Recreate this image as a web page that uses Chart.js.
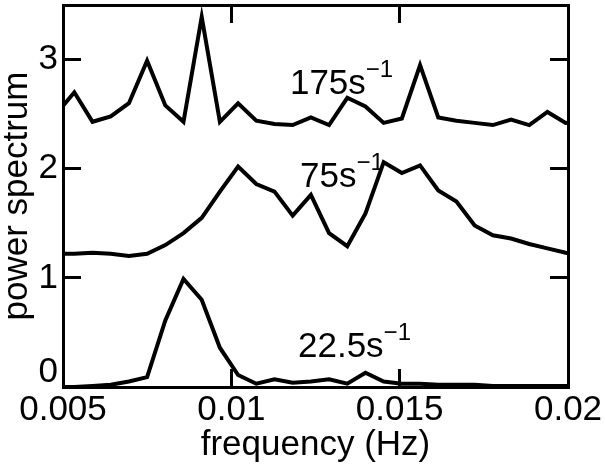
<!DOCTYPE html>
<html>
<head>
<meta charset="utf-8">
<script src="https://cdn.jsdelivr.net/npm/chart.js@4"></script>
<style>
  html, body { margin: 0; padding: 0; background: #fff; }
  #wrap { width: 605px; height: 470px; }
</style>
</head>
<body>
<div id="wrap"><canvas id="chart" width="605" height="470"></canvas></div>
<script>
// frequency of each spectrum sample (Hz)
const freq = [0.004796, 0.005336, 0.005877, 0.006417, 0.006958, 0.007498, 0.008039, 0.008579,
  0.009120, 0.009660, 0.010201, 0.010741, 0.011282, 0.011822, 0.012363, 0.012903, 0.013444,
  0.013984, 0.014525, 0.015065, 0.015606, 0.016146, 0.016687, 0.017227, 0.017768, 0.018308,
  0.018849, 0.019389, 0.019930, 0.020470];

const spec175 = [2.50, 2.70, 2.43, 2.48, 2.60, 2.99, 2.58, 2.43, 3.39, 2.43, 2.60, 2.44, 2.41, 2.40,
  2.47, 2.40, 2.65, 2.57, 2.42, 2.46, 2.95, 2.47, 2.44, 2.42, 2.40, 2.45, 2.40, 2.52, 2.42, 2.43];
const spec75 = [1.22, 1.22, 1.23, 1.22, 1.20, 1.22, 1.30, 1.41, 1.55, 1.79, 2.02, 1.86, 1.79, 1.57,
  1.76, 1.41, 1.29, 1.59, 2.06, 1.96, 2.03, 1.80, 1.70, 1.48, 1.39, 1.36, 1.31, 1.27, 1.23, 1.20];
const spec22 = [0.00, 0.00, 0.01, 0.02, 0.05, 0.09, 0.61, 0.99, 0.80, 0.36, 0.11, 0.03, 0.07, 0.04,
  0.05, 0.07, 0.03, 0.13, 0.05, 0.03, 0.03, 0.02, 0.02, 0.02, 0.01, 0.01, 0.01, 0.01, 0.01, 0.01];

const xTicks = [0.005, 0.01, 0.015, 0.02];
const xTickLabels = ['0.005', '0.01', '0.015', '0.02'];
const yTicks = [0, 1, 2, 3];
const yTickLabels = ['0', '1', '2', '3'];

// curve labels: text, anchor in data units
const labelText = ['175s', '75s', '22.5s'];
const labelX = [0.01174, 0.01204, 0.01198];
const labelY = [2.68, 1.83, 0.275];

const FONT = '"Liberation Sans", Arial, Helvetica, sans-serif';

function toPoints(ys) {
  return freq.map((f, i) => ({ x: f, y: ys[i] }));
}

function lineSet(ys) {
  return {
    data: toPoints(ys),
    borderColor: '#000',
    borderWidth: 4,
    pointRadius: 0,
    tension: 0,
    clip: 0
  };
}

const curveLabels = {
  id: 'curveLabels',
  afterDatasetsDraw(chart) {
    const ctx = chart.ctx;
    const xs = chart.scales.x, ys = chart.scales.y;
    ctx.save();
    ctx.fillStyle = '#000';
    ctx.textBaseline = 'alphabetic';
    ctx.textAlign = 'left';
    for (let i = 0; i < labelText.length; i++) {
      const px = xs.getPixelForValue(labelX[i]);
      const py = ys.getPixelForValue(labelY[i]);
      ctx.font = '35px ' + FONT;
      ctx.fillText(labelText[i], px, py);
      const w = ctx.measureText(labelText[i]).width;
      ctx.font = '24px ' + FONT;
      ctx.fillText('\u22121', px + w, py - 17);
    }
    ctx.restore();
  }
};

const tickGrid = {
  drawOnChartArea: false,
  color: '#000',
  lineWidth: 3,
  tickLength: -18
};
const axisBorder = { display: true, color: '#000', width: 3 };

new Chart(document.getElementById('chart'), {
  type: 'line',
  data: {
    datasets: [lineSet(spec175), lineSet(spec75), lineSet(spec22)]
  },
  options: {
    responsive: false,
    animation: false,
    layout: { padding: { top: 5, right: 37, bottom: 0, left: 0 } },
    plugins: { legend: { display: false }, tooltip: { enabled: false } },
    scales: {
      x: {
        type: 'linear',
        position: 'bottom',
        min: 0.005,
        max: 0.02,
        afterBuildTicks: s => { s.ticks = xTicks.map(v => ({ value: v })); },
        afterFit: s => { s.height = 83; s.paddingLeft = 0; s.paddingRight = 0; },
        grid: tickGrid,
        border: axisBorder,
        ticks: {
          color: '#000',
          padding: 20,
          maxRotation: 0,
          autoSkip: false,
          font: { family: FONT, size: 35 },
          callback: (v) => xTickLabels[xTicks.indexOf(v)]
        },
        title: {
          display: true,
          text: 'frequency (Hz)',
          color: '#000',
          font: { family: FONT, size: 35 },
          padding: { top: 0, bottom: 4 }
        }
      },
      x2: {
        type: 'linear',
        position: 'top',
        min: 0.005,
        max: 0.02,
        afterBuildTicks: s => { s.ticks = xTicks.map(v => ({ value: v })); },
        afterFit: s => { s.height = 0; s.paddingLeft = 0; s.paddingRight = 0; },
        grid: tickGrid,
        border: axisBorder,
        ticks: { display: false }
      },
      y: {
        type: 'linear',
        position: 'left',
        min: 0,
        max: 3.5,
        afterBuildTicks: s => { s.ticks = yTicks.map(v => ({ value: v })); },
        afterFit: s => { s.width = 63; s.paddingTop = 0; s.paddingBottom = 0; },
        grid: tickGrid,
        border: axisBorder,
        ticks: {
          color: '#000',
          padding: 23,
          font: { family: FONT, size: 35, lineHeight: 0.86 },
          // the 0 label sits a little above its tick in the original
          callback: (v) => v === 0 ? [yTickLabels[0], ''] : yTickLabels[yTicks.indexOf(v)]
        },
        title: {
          display: true,
          text: 'power spectrum',
          color: '#000',
          font: { family: FONT, size: 35, lineHeight: 1.0 },
          padding: { top: 0, bottom: 0 }
        }
      },
      y2: {
        type: 'linear',
        position: 'right',
        min: 0,
        max: 3.5,
        afterBuildTicks: s => { s.ticks = yTicks.map(v => ({ value: v })); },
        afterFit: s => { s.width = 0; s.paddingTop = 0; s.paddingBottom = 0; },
        grid: tickGrid,
        border: axisBorder,
        ticks: { display: false }
      }
    }
  },
  plugins: [curveLabels]
});
</script>
</body>
</html>
